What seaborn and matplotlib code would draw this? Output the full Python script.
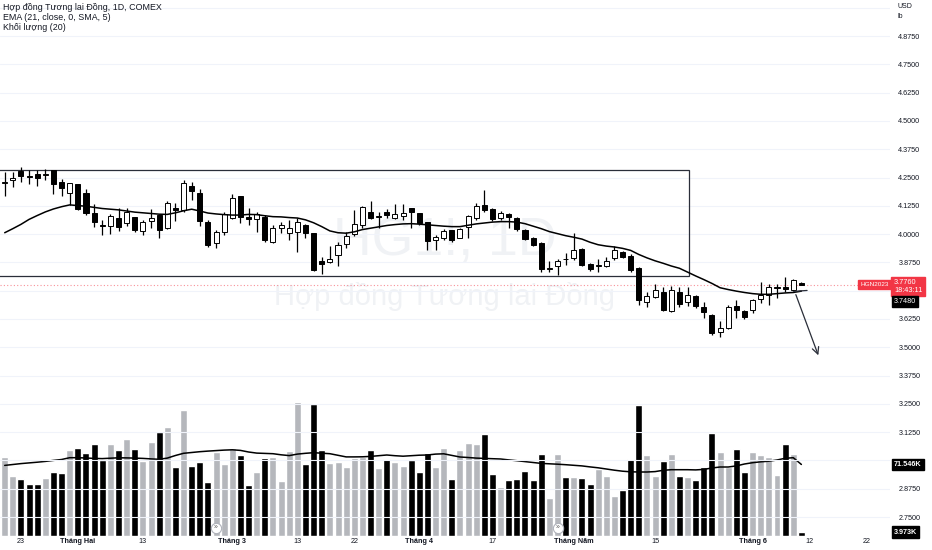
import matplotlib
matplotlib.use("Agg")
import numpy as np
import pandas as pd
import seaborn as sns
from matplotlib import pyplot as plt
from matplotlib.patches import Rectangle

# daily candles, HG1! COMEX, 19 Jan -> 9 Jun 2023 (trading-day index)
open_ = [4.226, 4.240, 4.279, 4.257, 4.264, 4.261, 4.283, 4.229, 4.180, 4.221,
         4.180, 4.092, 4.039, 4.037, 4.070, 4.048, 4.074, 4.014, 4.058, 4.084,
         4.026, 4.117, 4.106, 4.214, 4.180, 4.055, 3.959, 4.011, 4.072, 4.168,
         4.077, 4.067, 4.077, 3.964, 4.026, 4.004, 4.008, 4.040, 4.004, 3.882,
         3.875, 3.908, 3.955, 3.999, 4.040, 4.099, 4.076, 4.096, 4.072, 4.081,
         4.114, 4.092, 4.052, 3.974, 3.981, 4.017, 3.984, 4.033, 4.070, 4.129,
         4.111, 4.072, 4.087, 4.072, 4.018, 3.981, 3.959, 3.845, 3.860, 3.891,
         3.896, 3.934, 3.867, 3.859, 3.860, 3.893, 3.922, 3.905, 3.852, 3.699,
         3.723, 3.743, 3.660, 3.746, 3.699, 3.728, 3.679, 3.643, 3.566, 3.587,
         3.684, 3.660, 3.665, 3.713, 3.731, 3.762, 3.768, 3.753, 3.786]
high = [4.274, 4.276, 4.298, 4.283, 4.283, 4.288, 4.284, 4.243, 4.225, 4.222,
        4.199, 4.132, 4.062, 4.087, 4.117, 4.117, 4.077, 4.062, 4.110, 4.087,
        4.146, 4.136, 4.239, 4.229, 4.199, 4.062, 4.018, 4.099, 4.176, 4.169,
        4.117, 4.099, 4.084, 4.040, 4.055, 4.062, 4.070, 4.043, 4.005, 3.900,
        3.949, 3.966, 4.011, 4.106, 4.122, 4.146, 4.099, 4.111, 4.132, 4.132,
        4.115, 4.093, 4.053, 3.996, 4.022, 4.018, 4.028, 4.084, 4.136, 4.195,
        4.117, 4.102, 4.092, 4.077, 4.022, 3.989, 3.964, 3.881, 3.890, 3.915,
        4.004, 3.937, 3.871, 3.890, 3.900, 3.949, 3.925, 3.911, 3.853, 3.746,
        3.778, 3.768, 3.772, 3.768, 3.768, 3.731, 3.701, 3.646, 3.616, 3.687,
        3.709, 3.665, 3.713, 3.787, 3.778, 3.778, 3.812, 3.802, 3.789]
low = [4.168, 4.209, 4.230, 4.220, 4.214, 4.239, 4.176, 4.170, 4.129, 4.106,
       4.084, 4.033, 3.996, 3.999, 4.014, 4.037, 4.011, 3.996, 4.026, 3.981,
       4.022, 4.058, 4.099, 4.151, 4.037, 3.944, 3.937, 3.996, 4.067, 4.048,
       4.040, 4.011, 3.964, 3.959, 4.004, 3.974, 3.922, 3.984, 3.837, 3.822,
       3.871, 3.860, 3.937, 3.993, 4.026, 4.067, 4.028, 4.070, 4.067, 4.062,
       4.028, 4.040, 3.930, 3.930, 3.974, 3.964, 3.981, 3.984, 4.062, 4.099,
       4.058, 4.062, 4.026, 4.014, 3.974, 3.948, 3.831, 3.834, 3.819, 3.864,
       3.886, 3.860, 3.837, 3.831, 3.856, 3.886, 3.893, 3.834, 3.687, 3.679,
       3.716, 3.660, 3.657, 3.679, 3.684, 3.675, 3.628, 3.554, 3.547, 3.581,
       3.628, 3.625, 3.650, 3.694, 3.687, 3.719, 3.746, 3.749, 3.775]
close = [4.230, 4.249, 4.258, 4.251, 4.247, 4.266, 4.220, 4.202, 4.224, 4.111,
         4.092, 4.055, 4.036, 4.081, 4.033, 4.096, 4.018, 4.055, 4.072, 4.018,
         4.136, 4.106, 4.224, 4.190, 4.058, 3.952, 4.011, 4.087, 4.161, 4.077,
         4.067, 4.087, 3.974, 4.026, 4.040, 4.028, 4.052, 4.004, 3.841, 3.867,
         3.890, 3.952, 3.993, 4.043, 4.121, 4.072, 4.079, 4.084, 4.087, 4.092,
         4.096, 4.048, 3.970, 3.989, 4.014, 3.974, 4.022, 4.081, 4.125, 4.106,
         4.067, 4.092, 4.077, 4.022, 3.978, 3.952, 3.846, 3.848, 3.881, 3.888,
         3.930, 3.864, 3.846, 3.862, 3.881, 3.930, 3.900, 3.841, 3.709, 3.728,
         3.753, 3.665, 3.753, 3.690, 3.731, 3.684, 3.654, 3.562, 3.587, 3.679,
         3.665, 3.635, 3.709, 3.731, 3.768, 3.765, 3.757, 3.797, 3.776]
ema21 = [4.006, 4.024, 4.043, 4.065, 4.082, 4.098, 4.111, 4.121, 4.129, 4.126,
         4.123, 4.118, 4.113, 4.110, 4.107, 4.102, 4.097, 4.094, 4.091, 4.088,
         4.087, 4.094, 4.103, 4.110, 4.102, 4.093, 4.089, 4.086, 4.084, 4.084,
         4.087, 4.086, 4.081, 4.077, 4.076, 4.073, 4.071, 4.063, 4.050, 4.033,
         4.014, 4.006, 4.004, 4.010, 4.020, 4.026, 4.032, 4.038, 4.042, 4.045,
         4.046, 4.044, 4.041, 4.038, 4.035, 4.033, 4.033, 4.039, 4.045, 4.049,
         4.053, 4.055, 4.055, 4.053, 4.046, 4.035, 4.024, 4.011, 4.002, 3.993,
         3.986, 3.978, 3.964, 3.953, 3.947, 3.943, 3.937, 3.928, 3.910, 3.895,
         3.882, 3.871, 3.859, 3.849, 3.832, 3.815, 3.799, 3.782, 3.763, 3.755,
         3.748, 3.742, 3.737, 3.734, 3.734, 3.737, 3.740, 3.742, 3.748]
volume_k = [79, 60, 57, 51.7, 51.7, 58.3, 64, 63.3, 86, 88.3,
            83, 92.3, 76.3, 91.7, 85.7, 96.7, 87, 74.7, 94, 103.7,
            109, 69, 126.3, 70.3, 74, 54, 84, 71.7, 87.7, 80.7,
            50.7, 64.3, 78, 79.3, 55, 85, 134, 71.7, 131.7, 85.7,
            72.7, 74.3, 69.3, 78.3, 79, 85.7, 67.7, 77.3, 74.3, 69.7,
            76.3, 64.3, 82.7, 69, 87.7, 57, 85.7, 93.3, 92.3, 101.7,
            62.3, 49.3, 56.3, 57.3, 65, 56.3, 81.7, 38.3, 81.7, 59,
            59, 57.7, 51.7, 66.7, 60, 40, 46.3, 76.7, 131, 81,
            60, 75, 82.3, 60.3, 59, 56.3, 69, 103, 84, 69,
            86.7, 63.7, 84.3, 81, 79, 61, 91.7, 82.3, 3.973]
vol_ma20 = [70.6, 71.5, 72.4, 73.1, 73.8, 74.6, 75.6, 76.5, 78.3, 78.3,
            78.0, 77.6, 77.4, 77.8, 78.2, 78.1, 77.9, 77.6, 77.1, 76.7,
            77.9, 80.5, 82.7, 83.5, 84.3, 84.9, 85.4, 85.9, 86.2, 85.6,
            84.0, 82.9, 82.6, 82.3, 81.2, 80.4, 81.9, 82.7, 83.3, 82.8,
            82.3, 80.7, 79.1, 79.1, 79.2, 79.6, 80.3, 81.0, 80.3, 79.8,
            80.3, 80.8, 81.0, 81.9, 82.2, 80.6, 79.0, 78.5, 77.9, 77.6,
            77.3, 77.0, 76.1, 75.3, 74.4, 73.5, 72.6, 72.2, 71.8, 71.3,
            70.7, 70.1, 69.1, 68.2, 67.0, 65.8, 64.8, 64.2, 64.0, 64.0,
            64.4, 65.7, 66.3, 66.3, 66.3, 66.1, 66.6, 68.0, 69.0, 69.0,
            70.1, 72.0, 73.3, 74.2, 74.8, 76.0, 77.7, 78.3, 71.546]

date_tick_idx = [2, 9, 17, 28, 36, 43, 51, 60, 70, 80, 92, 99, 106]
date_tick_lbl = ["23", "Tháng Hai", "13", "Tháng 3", "13", "22", "Tháng 4",
                 "17", "Tháng Năm", "15", "Tháng 6", "12", "22"]
price_ticks = [2.75, 2.875, 3.0, 3.125, 3.25, 3.375, 3.5, 3.625, 3.75,
               3.875, 4.0, 4.125, 4.25, 4.375, 4.5, 4.625, 4.75, 4.875, 5.0]
# tick labels that sit under the price-scale badges in the reference
covered_ticks = [3.0, 3.75, 5.0]
rollover_idx = [26, 68]

# drawings on the chart
box_left, box_right, box_top, box_bottom = -3, 84.2, 4.283, 3.815
arrow_from = (97.2, 3.744)
arrow_to = (100.2, 3.453)

df = pd.DataFrame({"open": open_, "high": high, "low": low, "close": close,
                   "ema": ema21, "vol": volume_k, "vol_ma": vol_ma20})
df["idx"] = np.arange(len(df))
up = df["close"] >= df["open"]

sns.set_theme(style="white")
plt.rcParams["font.family"] = ["Liberation Sans", "DejaVu Sans"]

INK = "#131722"
RED = "#f23645"

fig = plt.figure(figsize=(9.32, 5.5), dpi=100)
fig.patch.set_facecolor("white")
ax = fig.add_axes([0, 14 / 550, 890 / 932, 536 / 550])
axv = ax.twinx()
ax.set_zorder(2)
axv.set_zorder(1)
ax.patch.set_visible(False)

# volume overlay
axv.bar(df["idx"], df["vol"], width=0.86,
        color=np.where(up, "#b5b7bc", "#000000"), zorder=2)
sns.lineplot(x=df["idx"], y=df["vol_ma"], ax=axv, color="black", lw=1.1, zorder=3)
axv.set_ylim(0, 536)
axv.set_yticks([])
axv.set_ylabel("")
for i in rollover_idx:
    axv.scatter([i], [8.5], s=55, facecolor="white", edgecolor="#b0b3bb", lw=0.8, zorder=5)
    axv.text(i, 8.3, "»", ha="center", va="center", fontsize=5, color="#555", zorder=6)

# watermark
ax.text(0.5, 0.55, "HG1!, 1D", transform=ax.transAxes, ha="center", va="center",
        fontsize=38.5, color="#f0f2f5", zorder=0)
ax.text(0.5, 0.446, "Hợp đồng Tương lai Đồng", transform=ax.transAxes, ha="center",
        va="center", fontsize=21, color="#f0f2f5", zorder=0)

# candles
ax.vlines(df["idx"], df["low"], df["high"], color="black", lw=0.9, zorder=3)
body_lo = np.minimum(df["open"], df["close"])
body_h = np.maximum(np.abs(df["close"] - df["open"]), 0.0035)
ax.bar(df["idx"], body_h, bottom=body_lo, width=0.62,
       color=np.where(up, "white", "black"), edgecolor="black", lw=0.7, zorder=4)
sns.lineplot(x=df["idx"], y=df["ema"], ax=ax, color="black", lw=1.1, zorder=5)

# drawings
ax.add_patch(Rectangle((box_left, box_bottom), box_right - box_left, box_top - box_bottom,
                       fill=False, edgecolor="#2a2e39", lw=0.9, zorder=2))
ax.axhline(df["close"].iloc[-1], color=RED, ls=(0, (1, 2)), lw=0.8, alpha=0.55, zorder=1)
ax.plot([97.1, 98.7], [3.747, 3.751], color="#2a2e39", lw=0.9, zorder=6)
ax.annotate("", xy=arrow_to, xytext=arrow_from,
            arrowprops=dict(arrowstyle="->", color="#2a2e39", lw=0.9), zorder=6)

# axes
ax.set_xlim(-0.578, 108.9)
ax.set_ylim(2.6662, 5.0342)
ax.set_yticks(price_ticks)
ax.set_yticklabels(["" if t in covered_ticks else f"{t:.4f}" for t in price_ticks])
ax.yaxis.tick_right()
ax.tick_params(axis="y", length=0, pad=6, labelsize=5.2, labelcolor=INK)
ax.grid(axis="y", color="#f0f3fa", lw=0.8)
ax.grid(axis="x", visible=False)
ax.set_xticks(date_tick_idx)
ax.set_xticklabels(date_tick_lbl)
ax.tick_params(axis="x", length=0, pad=1.5, labelsize=5.2, labelcolor=INK)
for lab in ax.get_xticklabels():
    if lab.get_text().startswith("Tháng"):
        lab.set_fontweight("bold")
ax.set_xlabel("")
ax.set_ylabel("")
for a in (ax, axv):
    for s in a.spines.values():
        s.set_visible(False)

# price scale labels
blend = (ax.transAxes, ax.transData)
last = df["close"].iloc[-1]
ax.annotate(f"{last:.4f}\n18:43:11", xy=(1.0045, last), xycoords=blend, xytext=(0, 4),
            textcoords="offset points", ha="left", va="top", fontsize=5.3, color="white",
            linespacing=1.1, annotation_clip=False,
            bbox=dict(boxstyle="square,pad=0.35", fc=RED, ec=RED), zorder=10)
ax.annotate("HGN2023", xy=(0.9985, last), xycoords=blend, ha="right", va="center",
            fontsize=4.6, color="white", annotation_clip=False,
            bbox=dict(boxstyle="square,pad=0.3", fc=RED, ec=RED), zorder=10)
ax.annotate(f"{df['ema'].iloc[-1]:.4f}", xy=(1.0045, df["ema"].iloc[-1]), xycoords=blend,
            xytext=(0, -7.3), textcoords="offset points", ha="left", va="center",
            fontsize=5.2, color="white", annotation_clip=False,
            bbox=dict(boxstyle="square,pad=0.3", fc="black", ec="black"), zorder=10)
blend_v = (axv.transAxes, axv.transData)
axv.annotate(f"{df['vol_ma'].iloc[-1]:.3f}K", xy=(1.0045, df["vol_ma"].iloc[-1]),
             xycoords=blend_v, ha="left", va="center", fontsize=5.2, color="white",
             annotation_clip=False, fontweight="bold",
             bbox=dict(boxstyle="square,pad=0.3", fc="black", ec="black"), zorder=10)
axv.annotate(f"{df['vol'].iloc[-1]:.3f}K", xy=(1.0045, df["vol"].iloc[-1]),
             xycoords=blend_v, ha="left", va="center", fontsize=5.2, color="white",
             annotation_clip=False, fontweight="bold",
             bbox=dict(boxstyle="square,pad=0.3", fc="black", ec="black"), zorder=10)

# legend / header text
fig.text(3 / 932, 1 - 8 / 550, "Hợp đồng Tương lai Đồng, 1D, COMEX", fontsize=6.4,
         color=INK, va="center")
fig.text(3 / 932, 1 - 18 / 550, "EMA (21, close, 0, SMA, 5)", fontsize=6.4, color=INK, va="center")
fig.text(3 / 932, 1 - 28 / 550, "Khối lượng (20)", fontsize=6.4, color=INK, va="center")
fig.text(898 / 932, 1 - 7 / 550, "USD", fontsize=5, color=INK, va="center")
fig.text(898 / 932, 1 - 17 / 550, "lb", fontsize=5, color=INK, va="center")

fig.savefig("out.png", dpi=100, facecolor="white")
